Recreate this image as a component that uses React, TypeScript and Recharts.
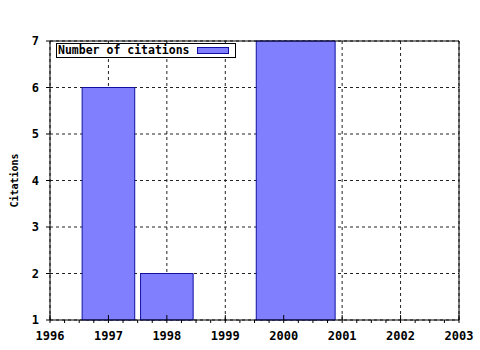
import React from 'react'
import { ComposedChart, XAxis, YAxis, CartesianGrid, ReferenceArea, Label } from 'recharts'

// citations per year, boxes as gnuplot drew them
const years = [1997, 1998, 2000]
const citations = [6, 2, 7]
const boxLeft = [1996.55, 1997.55, 1999.53]
const boxRight = [1997.45, 1998.45, 2000.88]

const xTicks = [1996, 1997, 1998, 1999, 2000, 2001, 2002, 2003]
const yTicks = [1, 2, 3, 4, 5, 6, 7]
const quarterTicks = xTicks.slice(0, -1).flatMap((y) => [y, y + 0.25, y + 0.5, y + 0.75]).concat([2003])

const font = 'DejaVu Sans Mono'
const tickStyle = { fill: '#000', fontSize: 12, fontWeight: 'bold', fontFamily: font }

const data = years.map((year, i) => ({ year, citations: citations[i] }))

// bottom ticks: majors cross the axis and carry a label, quarters stick out below
function BottomTick(props: any) {
  const { x, y, payload } = props
  const major = Number.isInteger(payload.value)
  return (
    <g>
      <line x1={x} x2={x} y1={major ? y - 5 : y} y2={y + 3} stroke="#000" />
      {major && (
        <text x={x} y={y + 11} dy="0.71em" textAnchor="middle" {...tickStyle}>
          {payload.value}
        </text>
      )}
    </g>
  )
}

// top ticks point down into the plot
function TopTick(props: any) {
  const { x, y, payload } = props
  const major = Number.isInteger(payload.value)
  return <line x1={x} x2={x} y1={y} y2={y + (major ? 5 : 3)} stroke="#000" />
}

export default function App() {
  return (
    <div style={{ position: 'absolute', left: 0, top: 0, width: 480, height: 350, background: '#fff' }}>
      <ComposedChart width={480} height={350} data={data} margin={{ top: 40, right: 20, bottom: 0, left: 0 }}>
        <CartesianGrid stroke="#222" strokeDasharray="3 3" verticalValues={xTicks} horizontalValues={yTicks} />

        {years.map((year, i) => (
          <ReferenceArea
            key={year}
            x1={boxLeft[i]}
            x2={boxRight[i]}
            y1={1}
            y2={citations[i]}
            fill="#8080ff"
            fillOpacity={1}
            stroke="#1010a0"
            strokeWidth={1}
          />
        ))}

        <XAxis
          type="number"
          dataKey="year"
          domain={[1996, 2003]}
          allowDataOverflow
          ticks={quarterTicks}
          interval={0}
          height={30}
          stroke="#000"
          tickLine={false}
          tickSize={0}
          tickMargin={0}
          tick={<BottomTick />}
        />
        <XAxis
          xAxisId="top"
          orientation="top"
          type="number"
          domain={[1996, 2003]}
          allowDataOverflow
          ticks={quarterTicks}
          interval={0}
          height={1}
          stroke="#000"
          tickLine={false}
          tickSize={0}
          tickMargin={0}
          tick={<TopTick />}
        />

        <YAxis
          type="number"
          domain={[1, 7]}
          allowDataOverflow
          ticks={yTicks}
          interval={0}
          width={50}
          stroke="#000"
          tickSize={4}
          tickMargin={7}
          tick={tickStyle}
        >
          <Label
            value="Citations"
            angle={-90}
            position="insideLeft"
            offset={14}
            style={{ textAnchor: 'middle', fill: '#000', fontSize: 10, fontWeight: 'bold', fontFamily: font }}
          />
        </YAxis>
        <YAxis
          yAxisId="right"
          orientation="right"
          type="number"
          domain={[1, 7]}
          allowDataOverflow
          width={1}
          tickLine={false}
          tick={false}
          stroke="#000"
        />
      </ComposedChart>

      {/* key box, top left inside the plot */}
      <div
        style={{
          position: 'absolute',
          left: 56,
          top: 43,
          width: 178,
          height: 13,
          border: '1px solid #000',
          background: '#fff',
          fontFamily: font,
          fontWeight: 'bold',
          fontSize: 11.5,
          lineHeight: '13px',
          color: '#000',
        }}
      >
        <span style={{ position: 'absolute', left: 1, top: 0 }}>Number of citations</span>
        <div
          style={{
            position: 'absolute',
            left: 140,
            top: 3,
            width: 30,
            height: 5,
            background: '#8080ff',
            border: '1px solid #1010a0',
          }}
        />
      </div>
    </div>
  )
}
